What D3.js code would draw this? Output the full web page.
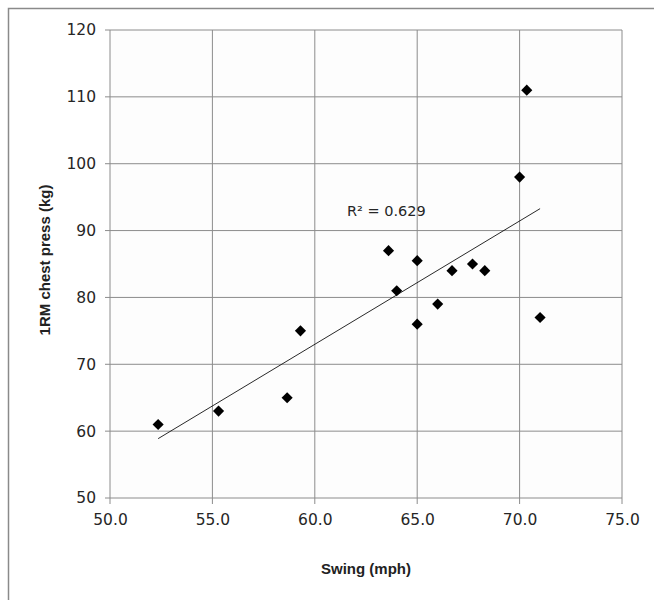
<!DOCTYPE html>
<html>
<head>
<meta charset="utf-8">
<script src="https://cdn.jsdelivr.net/npm/d3@7"></script>
<style>
  body { margin: 0; background: #fff; }
  svg { display: block; }
</style>
</head>
<body>
<div id="chart"></div>
<script>
const swing = [52.35, 55.3, 58.65, 59.3, 63.6, 64.0, 65.0, 65.0, 66.0, 66.7, 67.7, 68.3, 70.0, 70.35, 71.0]
const chestPress = [61, 63, 65, 75, 87, 81, 85.5, 76, 79, 84, 85, 84, 98, 111, 77]
const xTicks = [50, 55, 60, 65, 70, 75]
const yTicks = [50, 60, 70, 80, 90, 100, 110, 120]
const rSquaredLabel = 'R² = 0.629'

const width = 654
const height = 600
const margin = {top: 30, right: 32, bottom: 102, left: 110}
const innerWidth = width - margin.left - margin.right
const innerHeight = height - margin.top - margin.bottom

const points = swing.map((d, i) => ({x: d, y: chestPress[i]}))

// least squares trendline
const mx = d3.mean(swing)
const my = d3.mean(chestPress)
const slope = d3.sum(points, (d) => (d.x - mx) * (d.y - my)) / d3.sum(points, (d) => (d.x - mx) ** 2)
const intercept = my - slope * mx
const trendX = d3.extent(swing)

const x = d3.scaleLinear()
  .domain([50, 75])
  .range([0, innerWidth])
const y = d3.scaleLinear()
  .domain([50, 120])
  .range([innerHeight, 0])

const svg = d3.select('#chart').append('svg')
  .attr('width', width)
  .attr('height', height)

// outer chart border (only top and left edges fall inside the picture)
svg.append('path')
  .attr('d', `M8.5,${height} V8.5 H${width}`)
  .attr('fill', 'none')
  .attr('stroke', '#8a8a8a')
  .attr('stroke-width', 1.5)

const chart = svg.append('g')
  .attr('transform', `translate(${margin.left}, ${margin.top})`)

chart.append('rect')
  .attr('width', innerWidth)
  .attr('height', innerHeight)
  .attr('fill', '#fdfdfd')

// grid
chart.append('g').selectAll('line').data(yTicks)
  .enter().append('line')
    .attr('x1', -5)
    .attr('x2', innerWidth)
    .attr('y1', (d) => y(d))
    .attr('y2', (d) => y(d))
    .attr('stroke', '#8c8c8c')
    .attr('stroke-width', 1)
chart.append('g').selectAll('line').data(xTicks)
  .enter().append('line')
    .attr('x1', (d) => x(d))
    .attr('x2', (d) => x(d))
    .attr('y1', 0)
    .attr('y2', innerHeight + 6)
    .attr('stroke', '#8c8c8c')
    .attr('stroke-width', 1)

// tick labels
const xAxis = chart.append('g')
  .attr('transform', `translate(0, ${innerHeight})`)
  .call(d3.axisBottom(x).tickValues(xTicks).tickFormat(d3.format('.1f')).tickSize(0).tickPadding(16))
xAxis.select('.domain').remove()
xAxis.selectAll('text')
  .attr('font-family', 'DejaVu Sans')
  .attr('font-size', 15.5)
  .attr('fill', '#262626')

const yAxis = chart.append('g')
  .call(d3.axisLeft(y).tickValues(yTicks).tickSize(0).tickPadding(14))
yAxis.select('.domain').remove()
yAxis.selectAll('text')
  .attr('font-family', 'DejaVu Sans')
  .attr('font-size', 15.5)
  .attr('fill', '#262626')

// trendline
chart.append('line')
  .attr('x1', x(trendX[0]))
  .attr('y1', y(intercept + slope * trendX[0]))
  .attr('x2', x(trendX[1]))
  .attr('y2', y(intercept + slope * trendX[1]))
  .attr('stroke', '#111')
  .attr('stroke-width', 0.9)

chart.selectAll('.point').data(points)
  .enter().append('path')
    .attr('class', 'point')
    .attr('d', d3.symbol(d3.symbolSquare, 62))
    .attr('transform', (d) => `translate(${x(d.x)}, ${y(d.y)}) rotate(45)`)
    .attr('fill', '#000')

chart.append('text')
  .attr('x', 237)
  .attr('y', 186)
  .attr('font-family', 'DejaVu Sans')
  .attr('font-size', 14.5)
  .attr('fill', '#262626')
  .text(rSquaredLabel)

svg.append('text')
  .attr('x', 366)
  .attr('y', 574)
  .attr('text-anchor', 'middle')
  .attr('font-family', 'Liberation Sans')
  .attr('font-weight', 'bold')
  .attr('font-size', 15)
  .attr('fill', '#222')
  .text('Swing (mph)')

svg.append('text')
  .attr('transform', 'translate(50, 260) rotate(-90)')
  .attr('text-anchor', 'middle')
  .attr('font-family', 'Liberation Sans')
  .attr('font-weight', 'bold')
  .attr('font-size', 15)
  .attr('fill', '#222')
  .text('1RM chest press (kg)')
</script>
</body>
</html>
